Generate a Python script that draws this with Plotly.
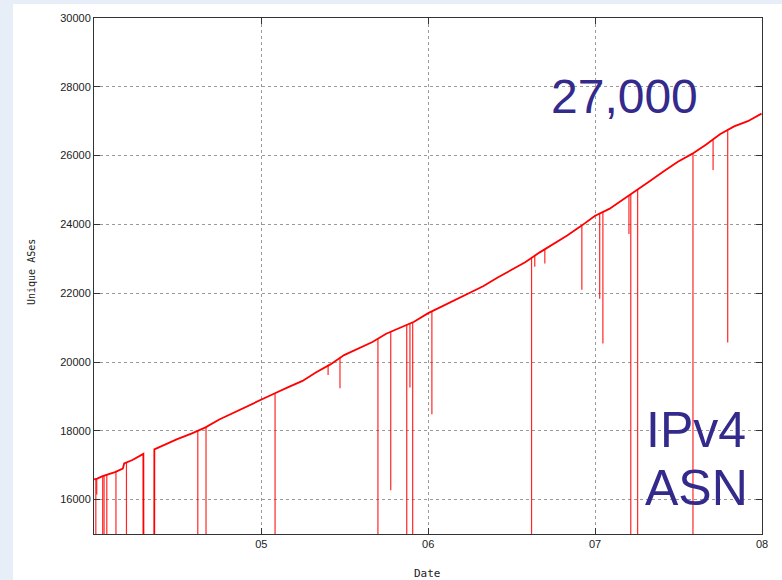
import plotly.graph_objects as go

# Daily unique IPv4 ASes seen in the routing table (sampled readings)
dates = [
    "2004-01-01", "2004-01-08", "2004-01-20", "2004-02-01", "2004-02-16",
    "2004-03-04", "2004-03-07", "2004-03-25", "2004-04-10", "2004-04-18",
    "2004-04-19", "2004-05-11",
    "2004-05-12", "2004-06-01", "2004-07-01", "2004-08-01", "2004-08-15",
    "2004-09-01", "2004-10-01", "2004-11-01", "2004-12-01", "2005-01-01",
    "2005-02-01", "2005-03-01", "2005-04-01", "2005-05-01", "2005-06-01",
    "2005-07-01", "2005-08-01", "2005-09-01", "2005-10-01", "2005-11-01",
    "2005-12-01", "2006-01-01", "2006-02-01", "2006-03-01", "2006-04-01",
    "2006-05-01", "2006-06-01", "2006-07-01", "2006-08-01", "2006-09-01",
    "2006-10-01", "2006-11-01", "2006-12-01", "2007-01-01", "2007-02-01",
    "2007-03-01", "2007-04-01", "2007-05-01", "2007-06-01", "2007-07-01",
    "2007-08-01", "2007-09-01", "2007-10-01", "2007-11-01", "2007-12-01",
    "2007-12-31",
]
unique_ases = [
    16590, 16610, 16680, 16730, 16800,
    16900, 17050, 17150, 17260, 17330,
    0, 0,
    17460, 17580, 17760, 17920, 18000,
    18100, 18330, 18530, 18720, 18900,
    19100, 19270, 19450, 19700, 19930,
    20200, 20400, 20580, 20820, 20990,
    21170, 21420, 21620, 21800, 22000,
    22200, 22450, 22680, 22900, 23180,
    23420, 23680, 23950, 24250, 24450,
    24700, 24980, 25260, 25550, 25820,
    26050, 26320, 26620, 26850, 27000,
    27220,
]

# Single-day collection drops: date, level before the drop, level reached
dip_dates = [
    "2004-01-05", "2004-01-07", "2004-01-20", "2004-01-23", "2004-01-29",
    "2004-02-18", "2004-03-12", "2004-08-15", "2004-09-02", "2005-01-31",
    "2005-05-27", "2005-06-22", "2005-09-13", "2005-10-11", "2005-11-15",
    "2005-11-22", "2005-11-28", "2006-01-09", "2006-08-15", "2006-08-22",
    "2006-09-13", "2006-12-03", "2007-01-11", "2007-01-18", "2007-03-16",
    "2007-03-20", "2007-04-04", "2007-08-03", "2007-09-16", "2007-10-18",
]
dip_top = [
    16600, 16610, 16680, 16690, 16720,
    16810, 17080, 18000, 18110, 19095,
    19890, 20120, 20680, 20875, 21075,
    21115, 21150, 21470, 23025, 23090,
    23275, 23970, 24315, 24360, 24835,
    24870, 25015, 26070, 26470, 26745,
]
dip_low = [
    0, 16150, 0, 0, 0,
    0, 0, 0, 0, 0,
    19620, 19240, 0, 16270, 0,
    19260, 0, 18480, 0, 22770,
    22860, 22100, 21840, 20540, 23720,
    0, 0, 0, 25580, 20570,
]

year_ticks = ["2005-01-01", "2006-01-01", "2007-01-01", "2008-01-01"]
year_labels = ["05", "06", "07", "08"]
y_ticks = [16000, 18000, 20000, 22000, 24000, 26000, 28000, 30000]

W, H = 782, 580
ML, MR, MT, MB = 94, 20, 18, 46
PW, PH = W - ML - MR, H - MT - MB


def px(x):
    return (x - ML) / PW


def py(y):
    return (H - MB - y) / PH


dip_x, dip_y = [], []
for d, top, low in zip(dip_dates, dip_top, dip_low):
    dip_x += [d, d, None]
    dip_y += [top, low, None]

fig = go.Figure()
fig.add_trace(go.Scatter(
    x=dip_x, y=dip_y, mode="lines",
    line=dict(color="rgba(255,0,0,0.85)", width=1.2),
    hoverinfo="skip", showlegend=False,
))
fig.add_trace(go.Scatter(
    x=dates, y=unique_ases, mode="lines",
    line=dict(color="#ff0000", width=1.8),
    showlegend=False,
))

axis_common = dict(
    showline=True, linecolor="#333333", linewidth=1, mirror="allticks",
    ticks="inside", ticklen=6, tickcolor="#333333",
    showgrid=True, gridcolor="#9a9a9a", gridwidth=1, griddash="dot",
    zeroline=False,
    tickfont=dict(family="Liberation Sans, Arial, sans-serif", size=11, color="#222222"),
)

fig.update_layout(
    width=W, height=H,
    margin=dict(l=ML, r=MR, t=MT, b=MB),
    paper_bgcolor="#e8eef7",
    plot_bgcolor="white",
    xaxis=dict(
        type="date", range=["2004-01-01", "2008-01-01"],
        tickmode="array", tickvals=year_ticks, ticktext=year_labels,
        **axis_common,
    ),
    yaxis=dict(
        range=[15000, 30000], tickmode="array", tickvals=y_ticks,
        ticktext=[str(v) for v in y_ticks],
        **axis_common,
    ),
    shapes=[dict(
        type="rect", xref="paper", yref="paper", layer="below",
        x0=px(13), x1=px(790), y0=py(4), y1=py(590),
        fillcolor="white", line=dict(width=0),
    )],
    annotations=[
        dict(text="27,000", xref="paper", yref="paper", x=px(624), y=py(96),
             xanchor="center", yanchor="middle", showarrow=False,
             font=dict(family="Liberation Sans, Arial, sans-serif", size=48, color="#332a8c")),
        dict(text="IPv4", xref="paper", yref="paper", x=px(696), y=py(430),
             xanchor="center", yanchor="middle", showarrow=False,
             font=dict(family="Liberation Sans, Arial, sans-serif", size=50, color="#332a8c")),
        dict(text="ASN", xref="paper", yref="paper", x=px(696), y=py(488),
             xanchor="center", yanchor="middle", showarrow=False,
             font=dict(family="Liberation Sans, Arial, sans-serif", size=50, color="#332a8c")),
        dict(text="Date", xref="paper", yref="paper", x=px(427), y=py(573),
             xanchor="center", yanchor="middle", showarrow=False,
             font=dict(family="DejaVu Sans Mono, monospace", size=11, color="#222222")),
        dict(text="Unique ASes", xref="paper", yref="paper", x=px(31), y=py(272),
             xanchor="center", yanchor="middle", showarrow=False, textangle=-90,
             font=dict(family="DejaVu Sans Mono, monospace", size=10, color="#222222")),
    ],
)

fig.write_html("out.html")
